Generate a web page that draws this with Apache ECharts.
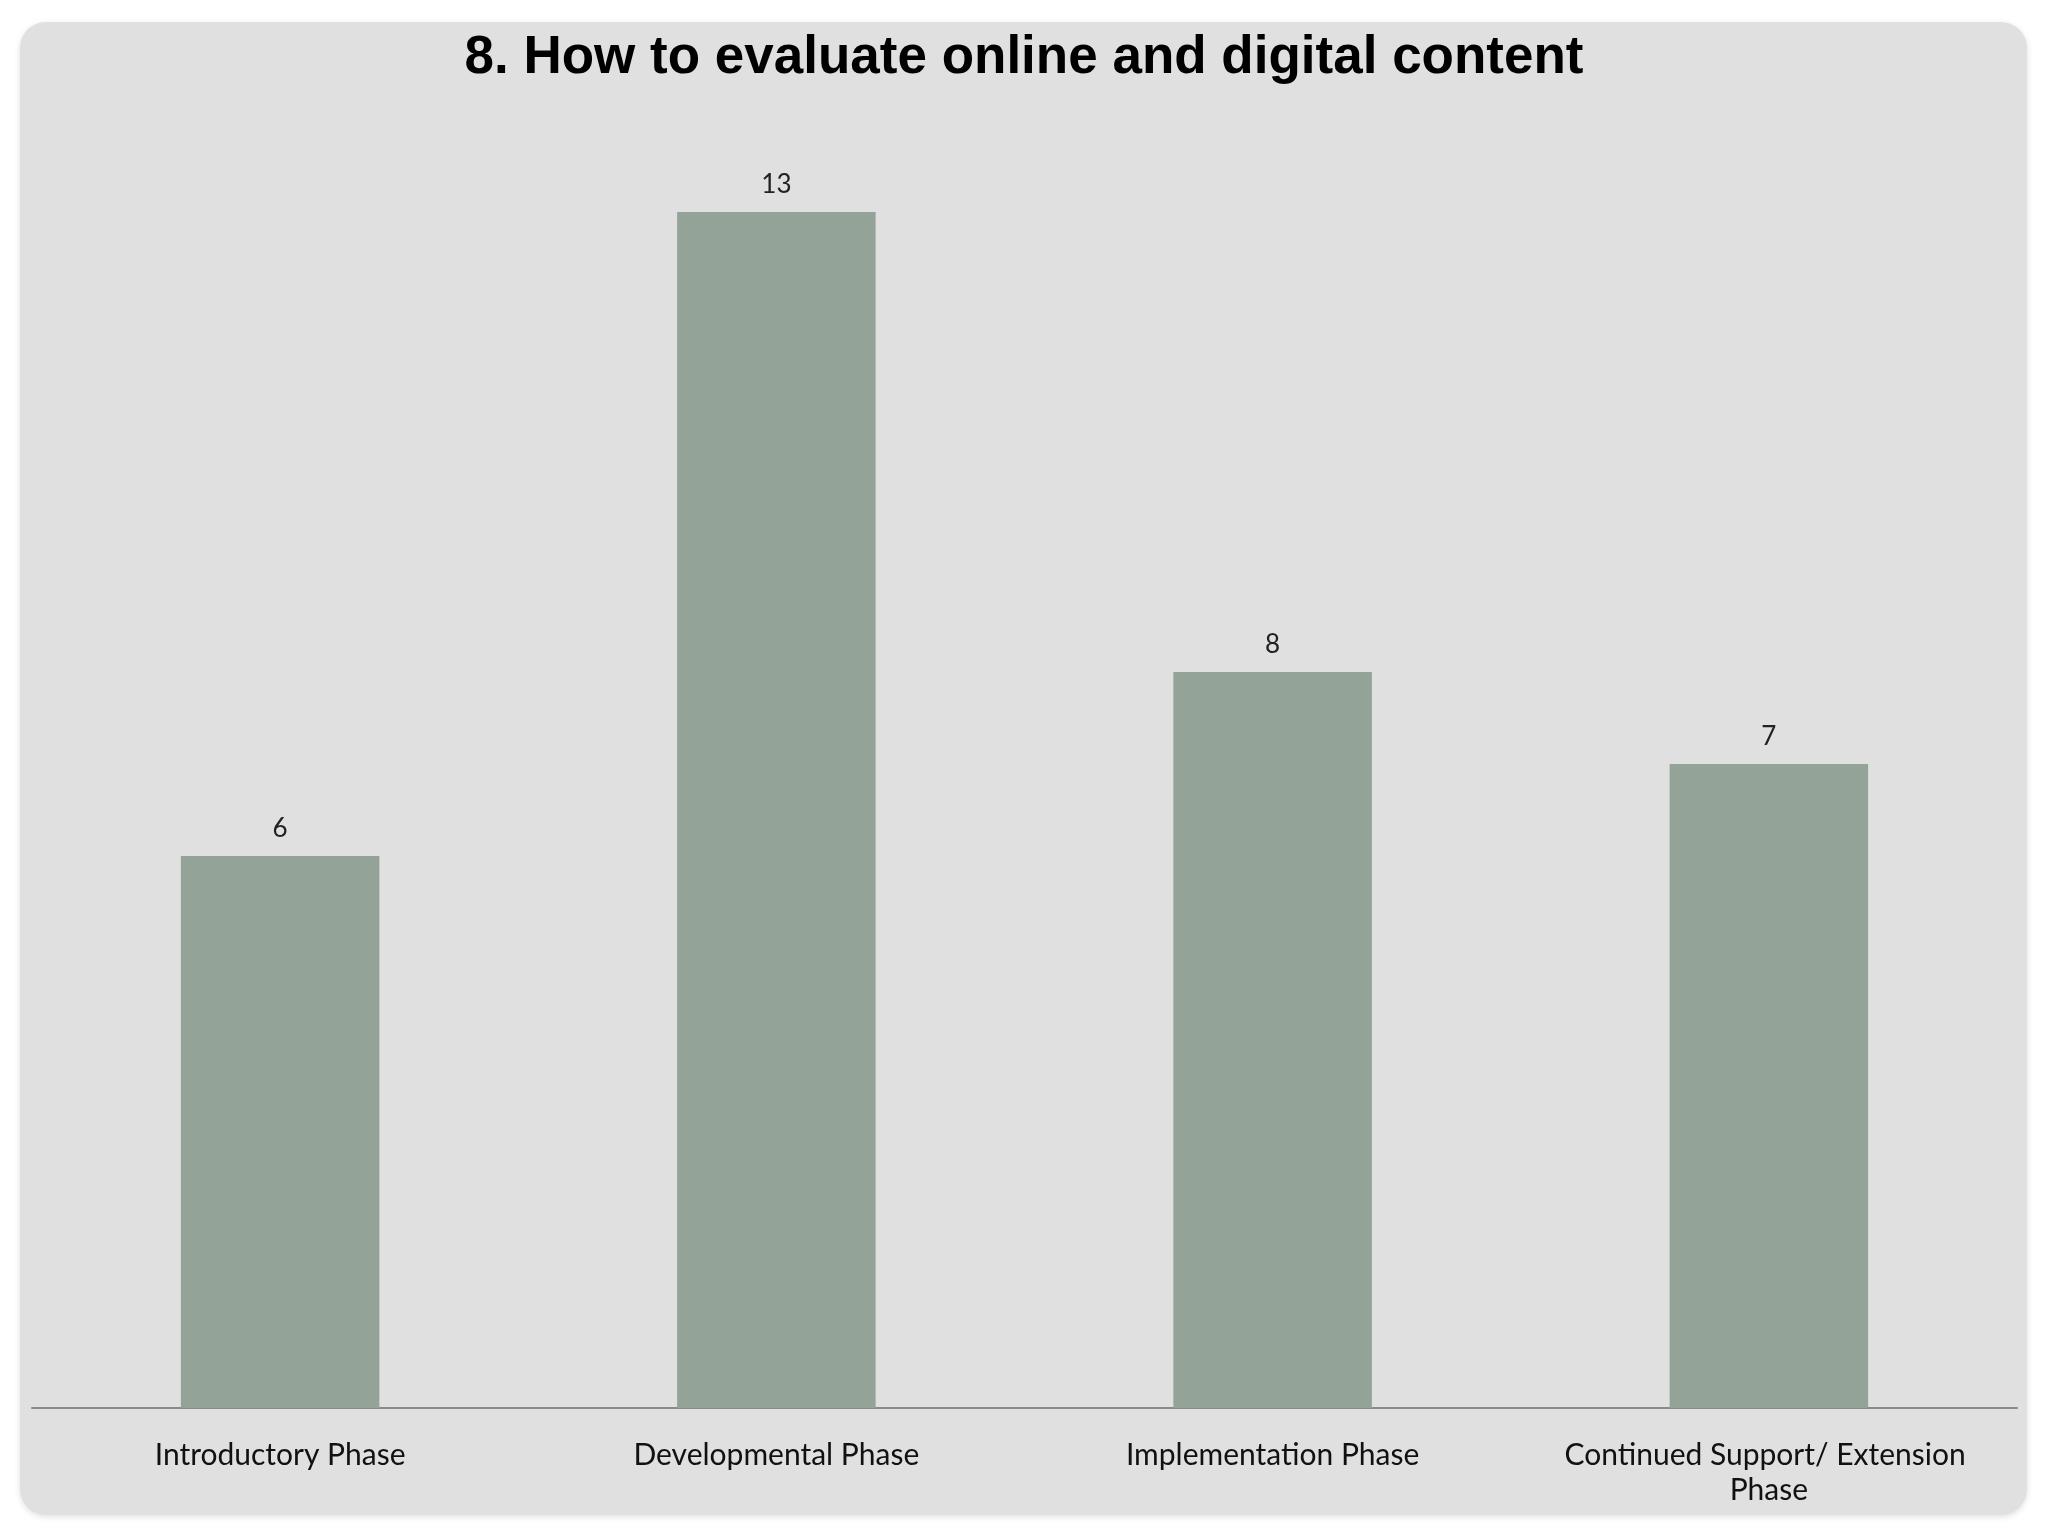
<!DOCTYPE html>
<html>
<head>
<meta charset="utf-8">
<script src="https://cdn.jsdelivr.net/npm/echarts@6/dist/echarts.min.js"></script>
<style>
html,body{margin:0;padding:0;background:#ffffff;}
#chart{width:2048px;height:1536px;}
</style>
</head>
<body>
<div id="chart"></div>
<script>
const titleText = "8. How to evaluate online and digital content";
const categories = ["Introductory Phase", "Developmental Phase", "Implementation Phase", "Continued Support/ Extension Phase"];
const values = [6, 13, 8, 7];

const chart = echarts.init(document.getElementById('chart'), null, {renderer: 'canvas'});
chart.setOption({
  backgroundColor: '#ffffff',
  animation: false,
  graphic: [{
    type: 'rect',
    z: -10,
    shape: {x: 20, y: 22, width: 2007, height: 1493, r: 26},
    style: {fill: '#e1e0e1', shadowBlur: 6, shadowColor: 'rgba(0,0,0,0.12)', shadowOffsetY: 2}
  }],
  title: {
    text: titleText,
    left: 'center',
    top: 27,
    textStyle: {fontFamily: 'Liberation Sans', fontWeight: 'bold', fontSize: 53, color: '#000000'}
  },
  grid: {left: 32, right: 31, top: 120, bottom: 128, containLabel: false},
  xAxis: {
    type: 'category',
    data: categories,
    axisLine: {show: true, lineStyle: {color: '#8a8a8a', width: 2}},
    axisTick: {show: false},
    axisLabel: {
      interval: 0,
      margin: 30,
      fontFamily: 'Lato',
      fontSize: 30,
      lineHeight: 35,
      color: '#111111',
      width: 440,
      overflow: 'break'
    }
  },
  yAxis: {
    type: 'value',
    min: 0,
    max: 14,
    show: false,
    splitLine: {show: false}
  },
  series: [{
    type: 'bar',
    data: values,
    barWidth: '40%',
    itemStyle: {color: '#93a398'},
    label: {
      show: true,
      position: 'top',
      distance: 14,
      fontFamily: 'Lato',
      fontSize: 26,
      color: '#222222'
    }
  }]
});
</script>
</body>
</html>
